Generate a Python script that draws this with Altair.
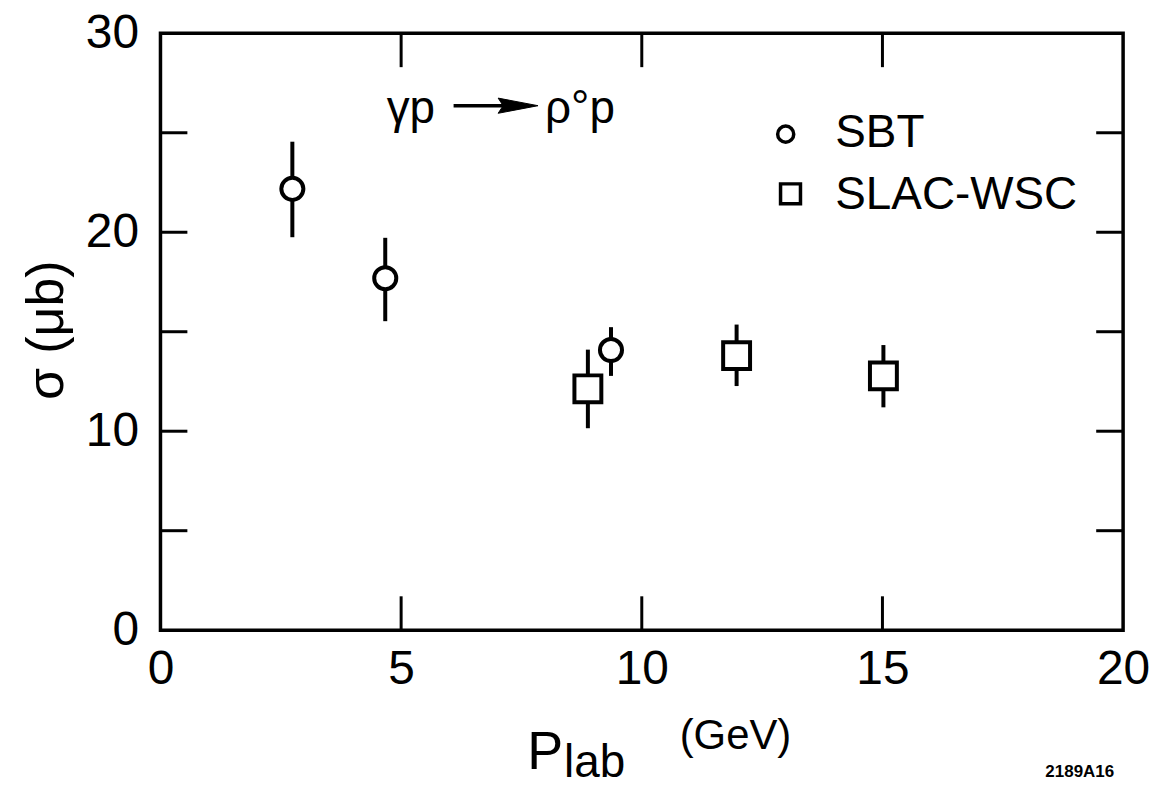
import altair as alt
import pandas as pd

# ---- data ----
# SBT (open circles)
sbt_p = [2.74, 4.67, 9.36]
sbt_sigma = [22.18, 17.69, 14.08]
sbt_lo = [19.75, 15.53, 12.78]
sbt_hi = [24.55, 19.72, 15.23]

# SLAC-WSC (open squares)
slac_p = [8.88, 11.97, 15.02]
slac_sigma = [12.13, 13.80, 12.78]
slac_lo = [10.15, 12.27, 11.20]
slac_hi = [14.10, 15.36, 14.33]

x_labels = [0, 5, 10, 15, 20]
y_labels = [0, 10, 20, 30]
x_inner_ticks = [5, 10, 15]
y_inner_ticks = [5, 10, 15, 20, 25]

legend_names = ["SBT", "SLAC-WSC"]
reaction_parts = ["γp", "ρ°p"]

# ---- layout / style ----
W, H = 966, 599
FONT = "Liberation Sans"
INK = "black"

xs = alt.Scale(domain=[0, 20], nice=False, zero=False)
ys = alt.Scale(domain=[0, 30], nice=False, zero=False)

sbt_df = pd.DataFrame({"p": sbt_p, "sigma": sbt_sigma, "lo": sbt_lo, "hi": sbt_hi})
slac_df = pd.DataFrame({"p": slac_p, "sigma": slac_sigma, "lo": slac_lo, "hi": slac_hi})

x_axis = alt.Axis(values=x_labels, ticks=False, domain=False, grid=False,
                  labelFontSize=48, labelFont=FONT, labelColor=INK,
                  labelPadding=15, labelFlush=False, title=None)
y_axis = alt.Axis(values=y_labels, ticks=False, domain=False, grid=False,
                  labelFontSize=48, labelFont=FONT, labelColor=INK,
                  labelPadding=22, labelFlush=False, title=None)


def xq(field):
    return alt.X(field, type="quantitative", scale=xs, axis=x_axis, title=None)


def yq(field):
    return alt.Y(field, type="quantitative", scale=ys, axis=y_axis, title=None)


# error bars
sbt_err = alt.Chart(sbt_df).mark_rule(color=INK, strokeWidth=4).encode(
    x=xq("p"), y=yq("lo"), y2="hi")
slac_err = alt.Chart(slac_df).mark_rule(color=INK, strokeWidth=4).encode(
    x=xq("p"), y=yq("lo"), y2="hi")

# markers
sbt_pts = alt.Chart(sbt_df).mark_point(
    shape="circle", size=490, filled=True, fill="white", stroke=INK,
    strokeWidth=4, opacity=1).encode(x=xq("p"), y=yq("sigma"))
slac_pts = alt.Chart(slac_df).mark_point(
    shape="square", size=729, filled=True, fill="white", stroke=INK,
    strokeWidth=4, opacity=1).encode(x=xq("p"), y=yq("sigma"))

# inward ticks
xt = pd.DataFrame({"t": x_inner_ticks})
yt = pd.DataFrame({"t": y_inner_ticks})
tick_bottom = alt.Chart(xt).mark_rule(color=INK, strokeWidth=3).encode(
    x=xq("t"), y=alt.value(H), y2=alt.value(H - 34))
tick_top = alt.Chart(xt).mark_rule(color=INK, strokeWidth=3).encode(
    x=xq("t"), y=alt.value(0), y2=alt.value(34))
tick_left = alt.Chart(yt).mark_rule(color=INK, strokeWidth=3).encode(
    y=yq("t"), x=alt.value(0), x2=alt.value(27))
tick_right = alt.Chart(yt).mark_rule(color=INK, strokeWidth=3).encode(
    y=yq("t"), x=alt.value(W), x2=alt.value(W - 27))

# legend (drawn inside the frame, as in the original)
leg_sym = pd.DataFrame({"x": [12.99, 13.09], "y": [24.93, 21.93], "name": legend_names})
leg_circle = alt.Chart(leg_sym.iloc[[0]]).mark_point(
    shape="circle", size=260, filled=True, fill="white", stroke=INK,
    strokeWidth=3.5, opacity=1).encode(x=xq("x"), y=yq("y"))
leg_square = alt.Chart(leg_sym.iloc[[1]]).mark_point(
    shape="square", size=400, filled=True, fill="white", stroke=INK,
    strokeWidth=3.5, opacity=1).encode(x=xq("x"), y=yq("y"))
leg_text_df = pd.DataFrame({"x": [14.02, 14.02], "y": [24.26, 21.18], "name": legend_names})
leg_text = alt.Chart(leg_text_df).mark_text(
    align="left", baseline="alphabetic", fontSize=46, font=FONT, color=INK).encode(
    x=xq("x"), y=yq("y"), text="name:N")

# reaction annotation  γp ──► ρ°p
react_df = pd.DataFrame({"x": [4.70, 7.99], "y": [25.51, 25.51], "t": reaction_parts})
react_text = alt.Chart(react_df).mark_text(
    align="left", baseline="alphabetic", fontSize=46, font=FONT, color=INK).encode(
    x=xq("x"), y=yq("y"), text="t:N")
shaft_df = pd.DataFrame({"x": [6.09], "x2": [7.30], "y": [26.36]})
arrow_shaft = alt.Chart(shaft_df).mark_rule(color=INK, strokeWidth=3.5).encode(
    x=xq("x"), x2="x2", y=yq("y"))
head_df = pd.DataFrame({"x": [7.43], "y": [26.36]})
arrow_head = alt.Chart(head_df).mark_point(
    shape="M-1,-0.38L1,0L-1,0.38L-0.75,0Z", size=1600, filled=True,
    fill=INK, stroke=INK, strokeWidth=1, opacity=1).encode(x=xq("x"), y=yq("y"))

# axis titles and figure code
one = pd.DataFrame({"k": [0]})


def label(txt, px, py, size, angle=0, align="left", weight="normal", baseline="alphabetic"):
    return alt.Chart(one).mark_text(
        text=txt, align=align, baseline=baseline, fontSize=size, font=FONT,
        fontWeight=weight, angle=angle, color=INK).encode(
        x=alt.value(px), y=alt.value(py))


y_title = label("σ (μb)", -114, 298, 52, angle=270, align="center", baseline="middle")
x_title_P = label("P", 368, 738, 54)
x_title_lab = label("lab", 405, 746, 46)
x_title_unit = label("(GeV)", 521, 718, 42)
fig_code = label("2189A16", 957, 746, 17, align="right", weight="bold")

chart = alt.layer(
    sbt_err, slac_err, sbt_pts, slac_pts,
    tick_bottom, tick_top, tick_left, tick_right,
    leg_circle, leg_square, leg_text,
    react_text, arrow_shaft, arrow_head,
    y_title, x_title_P, x_title_lab, x_title_unit, fig_code,
).properties(
    width=W, height=H,
    autosize=alt.AutoSizeParams(type="none"),
    padding={"left": 153, "top": 24, "right": 30, "bottom": 156},
    background="white",
).configure_view(stroke=INK, strokeWidth=3.5)

chart.save("out.html", embed_options={"renderer": "svg", "actions": False})
